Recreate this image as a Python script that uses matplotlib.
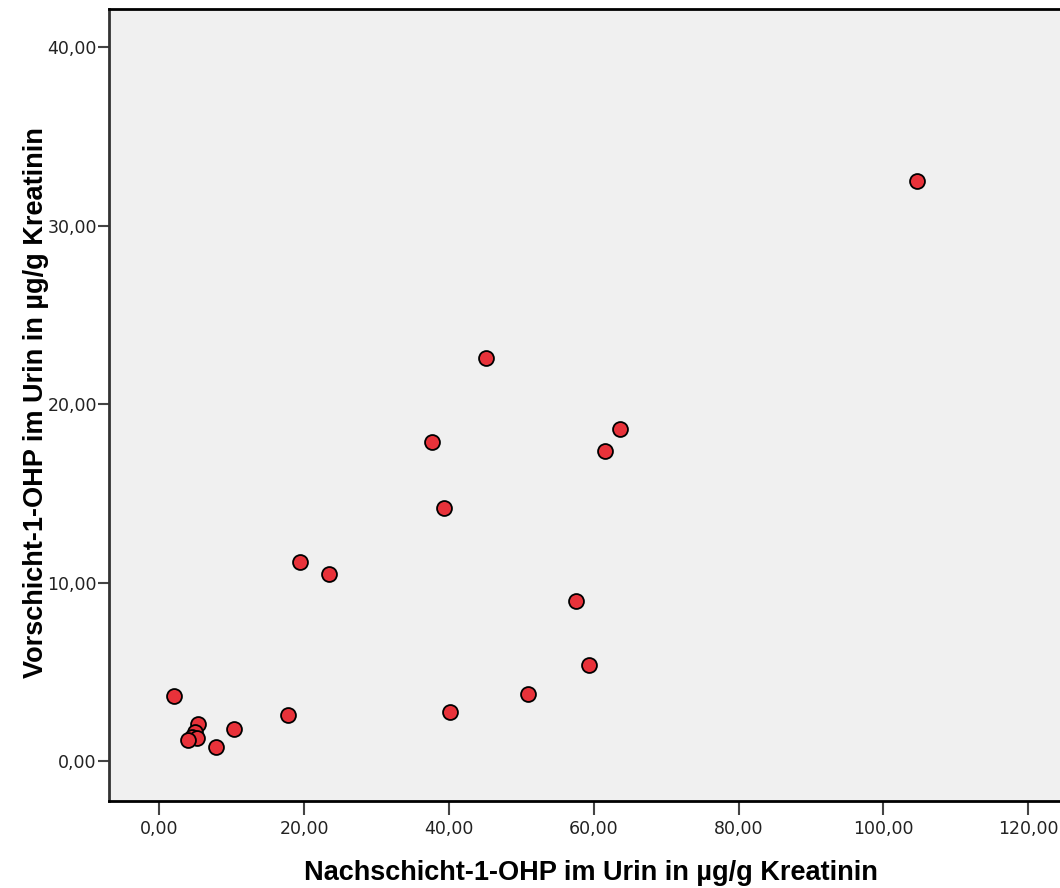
import matplotlib
matplotlib.use("Agg")
import matplotlib.pyplot as plt

# Nachschicht (x) vs Vorschicht (y) 1-OHP, µg/g Kreatinin
nachschicht = [104.6, 45.1, 37.6, 63.7, 61.5, 39.3, 19.5, 23.5, 57.5, 59.4,
               50.9, 40.2, 17.8, 2.0, 10.3, 7.9, 5.4, 4.9, 4.5, 5.2, 4.0]
vorschicht = [32.5, 22.6, 17.9, 18.6, 17.4, 14.2, 11.15, 10.5, 8.96, 5.38,
              3.75, 2.75, 2.58, 3.64, 1.79, 0.78, 2.07, 1.64, 1.36, 1.27, 1.18]

xticks = [0, 20, 40, 60, 80, 100, 120]
yticks = [0, 10, 20, 30, 40]

plt.rcParams['font.family'] = ['Liberation Sans', 'DejaVu Sans']

fig = plt.figure(figsize=(10.6, 8.88), dpi=100)
ax = fig.add_axes([0.1031, 0.0983, 0.8969, 0.8912])
ax.set_facecolor('#f0f0f0')

ax.scatter(nachschicht, vorschicht, s=115, c='#e8323a', edgecolors='black',
           linewidths=1.3, zorder=3)

ax.set_xlim(-6.9, 124.4)
ax.set_ylim(-2.22, 42.13)
ax.set_xticks(xticks)
ax.set_xticklabels(['%d,00' % v for v in xticks], family='DejaVu Sans')
ax.set_yticks(yticks)
ax.set_yticklabels(['%d,00' % v for v in yticks], family='DejaVu Sans')

for side in ['top', 'bottom']:
    ax.spines[side].set_linewidth(2)
    ax.spines[side].set_color('black')
ax.spines['left'].set_linewidth(2)
ax.spines['left'].set_color('#333333')
ax.spines['right'].set_visible(False)

ax.tick_params(axis='both', width=1.5, color='#444444',
               labelsize=12.5, labelcolor='#222222')
ax.tick_params(axis='x', length=10, pad=4)
ax.tick_params(axis='y', length=8, pad=1)

ax.set_xlabel('Nachschicht-1-OHP im Urin in µg/g Kreatinin',
              fontsize=19.5, fontweight='bold', va='baseline')
ax.set_ylabel('Vorschicht-1-OHP im Urin in µg/g Kreatinin',
              fontsize=19.5, fontweight='bold')
ax.xaxis.set_label_coords(0.5067, -0.1002)
ax.yaxis.label.set_va('baseline')
ax.yaxis.set_label_coords(-0.0697, 0.5026)

fig.savefig('out.png', dpi=100, facecolor='white')
